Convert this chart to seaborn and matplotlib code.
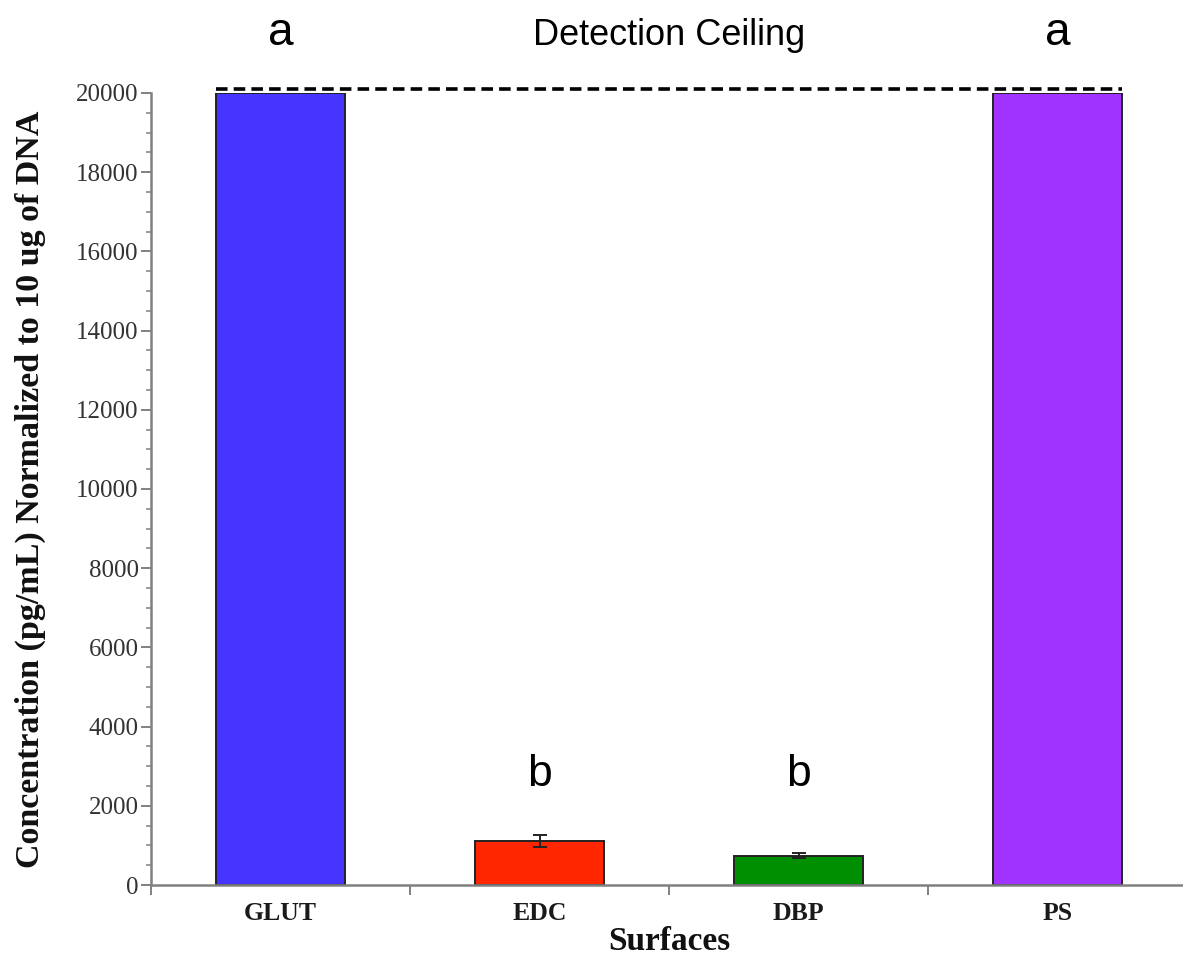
import matplotlib
matplotlib.use("Agg")
import matplotlib.pyplot as plt
import matplotlib.transforms as mtransforms
from matplotlib.ticker import MultipleLocator, FixedLocator
import seaborn as sns
import pandas as pd

# Measured cytokine concentration per surface treatment
surfaces = ["GLUT", "EDC", "DBP", "PS"]
concentration = [20000, 1120, 740, 20000]
std_error = [0, 150, 60, 0]
bar_colors = ["#4634FF", "#FF2600", "#008F00", "#A033FF"]
group_letters = ["a", "b", "b", "a"]
detection_ceiling = 20100

sns.set_theme(style="white")
plt.rcParams["font.family"] = ["Liberation Serif", "DejaVu Serif"]

W, H = 1183, 961
fig = plt.figure(figsize=(W / 100, H / 100), dpi=100)
ax = fig.add_axes([151 / W, 76 / H, (1187 - 151) / W, (885 - 93) / H])

df = pd.DataFrame({"Surface": surfaces, "Concentration": concentration})
sns.barplot(
    data=df, x="Surface", y="Concentration", hue="Surface",
    palette=bar_colors, order=surfaces, hue_order=surfaces,
    width=0.5, saturation=1, legend=False, errorbar=None,
    edgecolor="#222222", linewidth=1.4, ax=ax,
)

# Error bars on the measured (non-saturated) groups
xs = list(range(len(surfaces)))
err_x = [x for x, e in zip(xs, std_error) if e > 0]
err_y = [c for c, e in zip(concentration, std_error) if e > 0]
err_e = [e for e in std_error if e > 0]
ax.errorbar(err_x, err_y, yerr=err_e, fmt="none", ecolor="#222222",
            elinewidth=1.4, capsize=5, capthick=1.4, zorder=5)

# Detection ceiling line spanning the bars
ax.plot([-0.25, 3.25], [detection_ceiling, detection_ceiling],
        color="black", lw=2.6, linestyle=(0, (3.2, 1.7)), clip_on=False, zorder=6)

ax.set_xlim(-0.5, 3.5)
ax.set_ylim(0, 20000)
ax.yaxis.set_major_locator(MultipleLocator(2000))
ax.yaxis.set_minor_locator(MultipleLocator(500))
ax.xaxis.set_minor_locator(FixedLocator([-0.5, 0.5, 1.5, 2.5]))

spine_color = "#808080"
for side in ["top", "right"]:
    ax.spines[side].set_visible(False)
for side in ["left", "bottom"]:
    ax.spines[side].set_color(spine_color)
    ax.spines[side].set_linewidth(1.8)

ax.tick_params(axis="y", which="major", direction="out", length=7, width=1.4,
               color=spine_color, labelsize=18, labelcolor="#333333", pad=2, left=True)
ax.tick_params(axis="y", which="minor", direction="out", length=3.5, width=1.1,
               color=spine_color, left=True)
ax.tick_params(axis="x", which="major", length=0, pad=12, labelsize=18.5, labelcolor="#1a1a1a")
ax.tick_params(axis="x", which="minor", direction="out", length=7, width=1.4,
               color=spine_color, bottom=True)
for lab in ax.get_xticklabels():
    lab.set_fontweight("bold")

ax.set_xlabel("Surfaces", fontsize=24, fontweight="bold", color="#111111", labelpad=1)
ax.set_ylabel("Concentration (pg/mL) Normalized to 10 ug of DNA", fontsize=24.5,
              fontweight="bold", color="#111111")
ax.yaxis.set_label_coords((46 - 151) / 1036, 0.5)

# Significance group letters
top_tr = mtransforms.blended_transform_factory(ax.transData, fig.transFigure)
sans = ["Liberation Sans", "DejaVu Sans"]
for x, letter, val in zip(xs, group_letters, concentration):
    if val >= 20000:
        ax.text(x, 1 - 45 / H, letter, transform=top_tr, ha="center",
                va="baseline", fontsize=33, family=sans, color="black")
    else:
        ax.text(x, 2500, letter, ha="center", va="baseline", fontsize=32,
                family=sans, color="black")
ax.text(1.5, 1 - 45 / H, "Detection Ceiling", transform=top_tr, ha="center",
        va="baseline", fontsize=26, family=sans, color="black")

fig.savefig("out.png", dpi=100)
